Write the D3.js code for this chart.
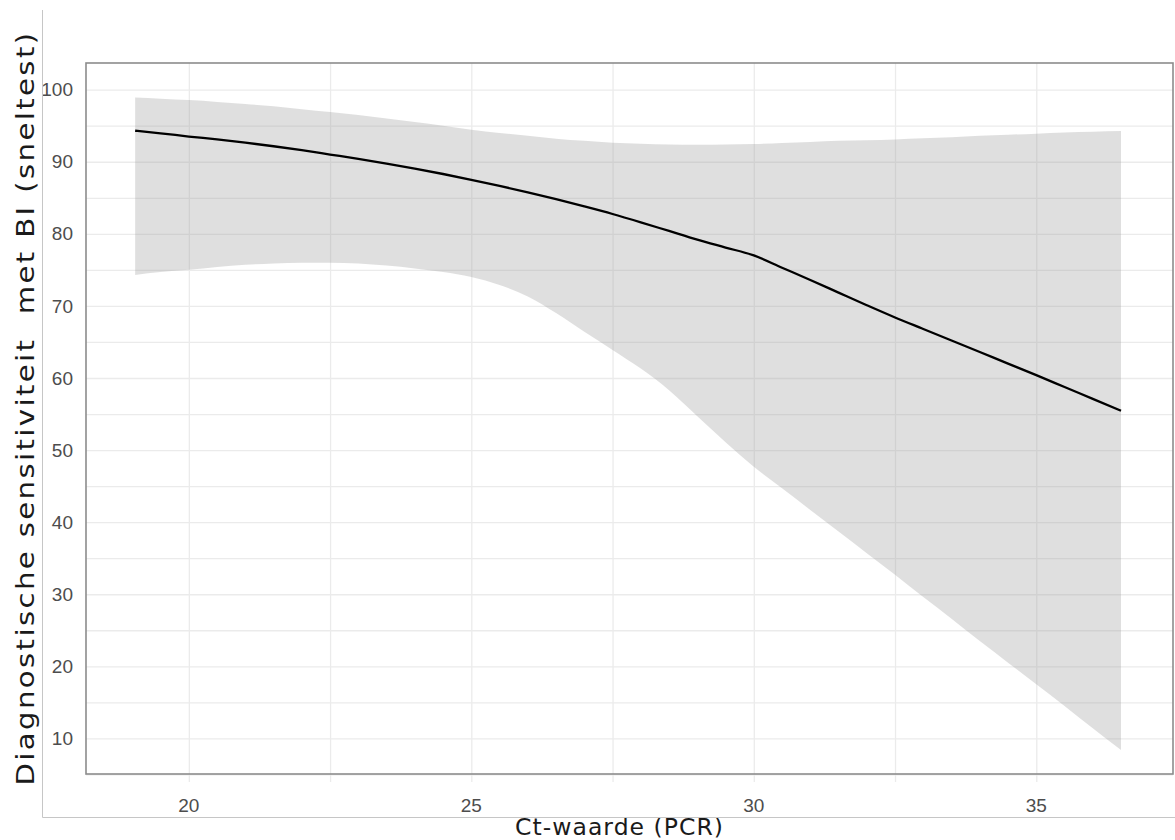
<!DOCTYPE html>
<html>
<head>
<meta charset="utf-8">
<script src="https://cdn.jsdelivr.net/npm/d3@7"></script>
<style>
  body { margin: 0; background: #ffffff; }
  svg { display: block; }
</style>
</head>
<body>
<svg id="chart" width="1175" height="840"></svg>
<script>
// Ct value (PCR) at which the fitted curve is evaluated
const ctValues = [19.05, 19.5, 20, 20.5, 21, 21.5, 22, 22.5, 23, 23.5, 24, 24.5, 25, 25.5, 26, 26.5,
  27, 27.5, 28, 28.5, 29, 29.5, 30, 30.5, 31, 31.5, 32, 32.5, 33, 33.5, 34, 34.5, 35, 35.5, 36, 36.5];

// Fitted diagnostic sensitivity (%)
const sensitivity = [94.3, 93.95, 93.5, 93.1, 92.65, 92.15, 91.6, 91.0, 90.4, 89.75, 89.05, 88.3, 87.5, 86.65,
  85.75, 84.8, 83.8, 82.75, 81.6, 80.4, 79.2, 78.1, 77.0, 75.3, 73.6, 71.85, 70.1, 68.4, 66.8, 65.2,
  63.6, 62.0, 60.4, 58.75, 57.1, 55.45];

// Lower bound of the confidence band (%)
const lowerCI = [74.3, 74.7, 75.0, 75.4, 75.7, 75.9, 76.0, 76.0, 75.9, 75.6, 75.2, 74.7, 74.0, 72.9,
  71.3, 69.0, 66.4, 63.9, 61.3, 58.3, 54.7, 51.1, 47.7, 44.7, 41.7, 38.7, 35.7, 32.7, 29.6, 26.6,
  23.5, 20.5, 17.5, 14.5, 11.4, 8.4];

// Upper bound of the confidence band (%)
const upperCI = [98.9, 98.75, 98.55, 98.3, 98.0, 97.7, 97.3, 96.9, 96.5, 96.0, 95.5, 95.0, 94.45, 94.0,
  93.6, 93.2, 92.9, 92.65, 92.5, 92.4, 92.35, 92.4, 92.45, 92.6, 92.75, 92.9, 93.0, 93.1, 93.25, 93.4,
  93.6, 93.75, 93.9, 94.05, 94.15, 94.25];

const xTickLabels = [20, 25, 30, 35];
const yTickLabels = [10, 20, 30, 40, 50, 60, 70, 80, 90, 100];
const xGridValues = [20, 22.5, 25, 27.5, 30, 32.5, 35];
const yGridValues = [5, 10, 15, 20, 25, 30, 35, 40, 45, 50, 55, 60, 65, 70, 75, 80, 85, 90, 95, 100];

const xTitle = "Ct-waarde (PCR)";
const yTitle = "Diagnostische sensitiviteit  met BI (sneltest)";

const panel = { left: 86, top: 63, right: 1173, bottom: 774 };

const svg = d3.select("#chart");

const x = d3.scaleLinear().domain([18.18, 37.42]).range([panel.left, panel.right]);
const y = d3.scaleLinear().domain([5.06, 103.7]).range([panel.bottom, panel.top]);

const rows = ctValues.map((c, i) => ({ ct: c, fit: sensitivity[i], lo: lowerCI[i], hi: upperCI[i] }));

// Grid lines
const gridColor = "#ebebeb";
const xGrid = svg.append("g")
  .attr("transform", `translate(0,${panel.bottom + 8})`)
  .call(d3.axisBottom(x).tickValues(xGridValues).tickSize(-(panel.bottom + 8 - panel.top)).tickFormat(""));
xGrid.select(".domain").remove();
xGrid.selectAll("line").attr("stroke", gridColor).attr("stroke-width", 1.3);

const yGrid = svg.append("g")
  .attr("transform", `translate(${panel.left},0)`)
  .call(d3.axisLeft(y).tickValues(yGridValues).tickSize(-(panel.right - panel.left)).tickFormat(""));
yGrid.select(".domain").remove();
yGrid.selectAll("line").attr("stroke", gridColor).attr("stroke-width", 1.3);

// Confidence band
const band = d3.area()
  .x(d => x(d.ct))
  .y0(d => y(d.lo))
  .y1(d => y(d.hi))
  .curve(d3.curveMonotoneX);
svg.append("path")
  .datum(rows)
  .attr("d", band)
  .attr("fill", "#999999")
  .attr("fill-opacity", 0.31);

// Fitted curve
const line = d3.line()
  .x(d => x(d.ct))
  .y(d => y(d.fit))
  .curve(d3.curveMonotoneX);
svg.append("path")
  .datum(rows)
  .attr("d", line)
  .attr("fill", "none")
  .attr("stroke", "#000000")
  .attr("stroke-width", 2.3)
  .attr("stroke-linejoin", "round");

// Panel border
svg.append("rect")
  .attr("x", panel.left)
  .attr("y", panel.top)
  .attr("width", panel.right - panel.left)
  .attr("height", panel.bottom - panel.top)
  .attr("fill", "none")
  .attr("stroke", "#8c8c8c")
  .attr("stroke-width", 1.6);

// Tick labels
const tickFont = "'Liberation Sans', Arial, sans-serif";
svg.append("g")
  .selectAll("text")
  .data(yTickLabels)
  .join("text")
  .attr("x", panel.left - 13)
  .attr("y", d => y(d))
  .attr("dy", "0.35em")
  .attr("text-anchor", "end")
  .attr("font-family", tickFont)
  .attr("font-size", 19)
  .attr("fill", "#4d4d4d")
  .text(d => d);

svg.append("g")
  .selectAll("text")
  .data(xTickLabels)
  .join("text")
  .attr("x", d => x(d))
  .attr("y", 812)
  .attr("text-anchor", "middle")
  .attr("font-family", tickFont)
  .attr("font-size", 19)
  .attr("fill", "#4d4d4d")
  .text(d => d);

// Axis titles
const titleFont = "'DejaVu Sans', Verdana, sans-serif";
svg.append("text")
  .attr("x", 619)
  .attr("y", 835)
  .attr("text-anchor", "middle")
  .attr("font-family", titleFont)
  .attr("font-size", 23.5)
  .attr("fill", "#1a1a1a")
  .attr("textLength", 208)
  .attr("lengthAdjust", "spacing")
  .text(xTitle);

svg.append("text")
  .attr("transform", "translate(34,408) rotate(-90)")
  .attr("text-anchor", "middle")
  .attr("font-family", titleFont)
  .attr("font-size", 24.5)
  .attr("fill", "#1a1a1a")
  .style("white-space", "pre")
  .style("letter-spacing", "2px")
  .attr("textLength", 755)
  .attr("lengthAdjust", "spacingAndGlyphs")
  .text(yTitle);

// Outer frame lines
svg.append("line")
  .attr("x1", 42.5).attr("x2", 42.5).attr("y1", 10).attr("y2", 817.5)
  .attr("stroke", "#c6c6c6").attr("stroke-width", 1);
svg.append("line")
  .attr("x1", 42.5).attr("x2", 1175).attr("y1", 817.5).attr("y2", 817.5)
  .attr("stroke", "#c6c6c6").attr("stroke-width", 1);
</script>
</body>
</html>
